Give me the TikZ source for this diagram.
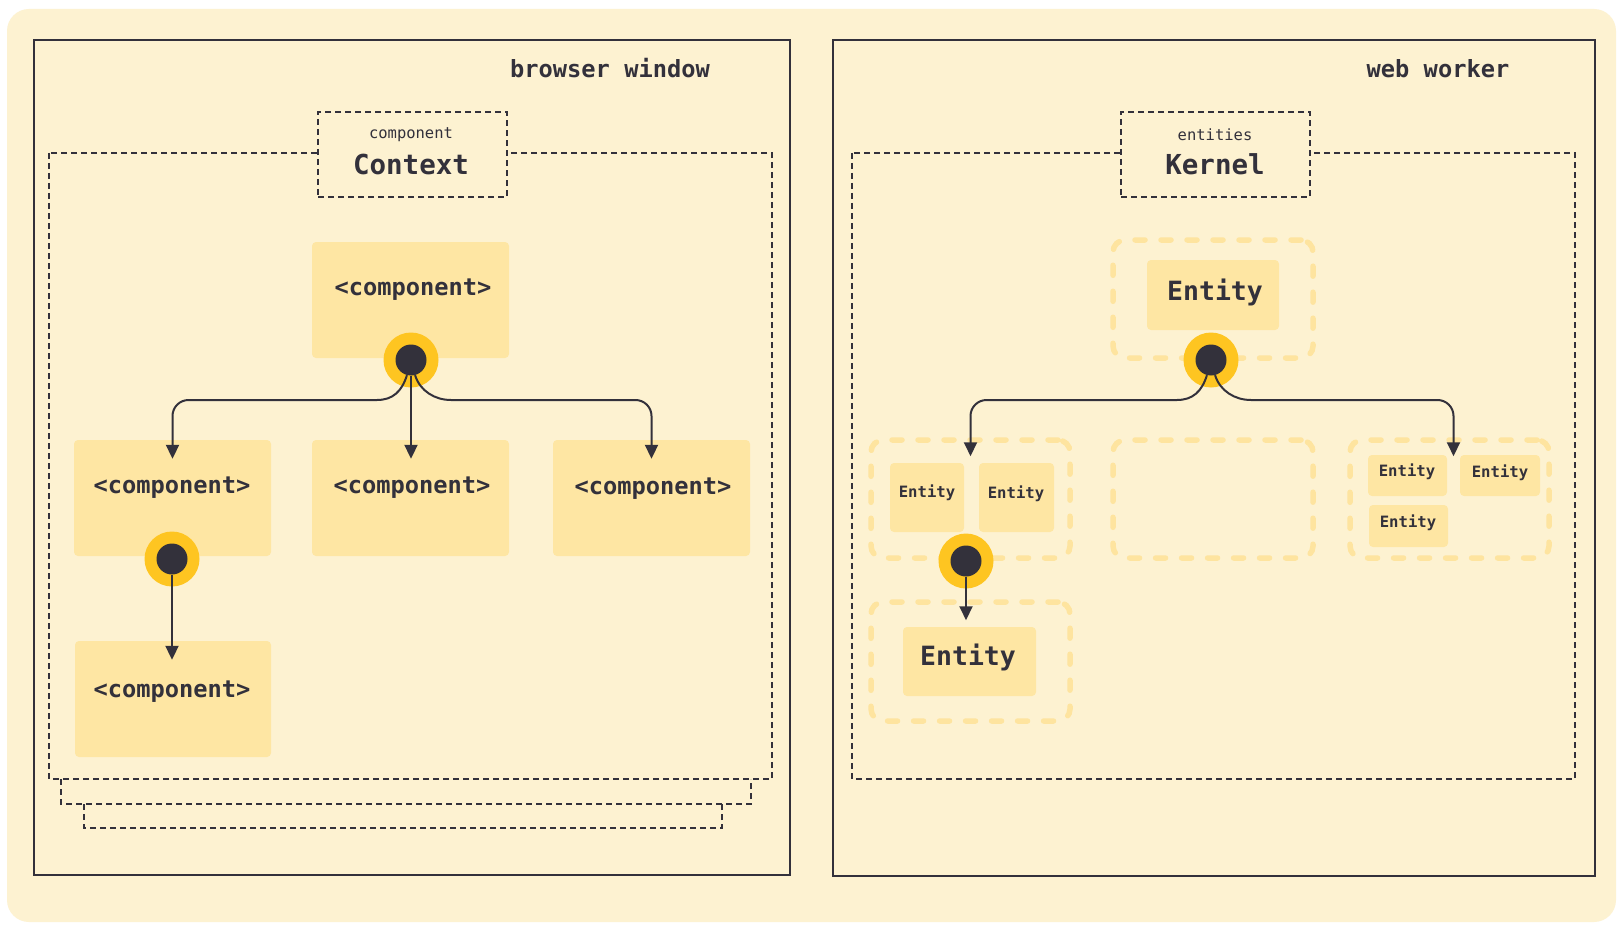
\documentclass[tikz,border=0pt]{standalone}
\usepackage{fontspec}
\newfontfamily\mono{DejaVu Sans Mono}
\usetikzlibrary{arrows.meta,calc}
\definecolor{bgc}{HTML}{FDF2D1}
\definecolor{boxc}{HTML}{FEE6A3}
\definecolor{ringc}{HTML}{FEC521}
\definecolor{ink}{HTML}{33313B}
\definecolor{grpc}{HTML}{FEE49F}
\begin{document}
\begin{tikzpicture}[x=1pt,y=-1pt,
  comp/.style={fill=boxc, rounded corners=4pt, inner sep=0pt, draw=none},
  big/.style={font=\mono\bfseries\fontsize{23.7}{28}\selectfont, text=ink, inner sep=0pt},
  huge/.style={font=\mono\bfseries\fontsize{26.5}{30}\selectfont, text=ink, inner sep=0pt},
  small/.style={font=\mono\bfseries\fontsize{15.6}{18}\selectfont, text=ink, inner sep=0pt},
  tiny/.style={font=\mono\fontsize{15.5}{18}\selectfont, text=ink, inner sep=0pt},
  title/.style={font=\mono\bfseries\fontsize{27.5}{32}\selectfont, text=ink, inner sep=0pt},
  ring/.style={circle, fill=ringc, minimum size=55pt, inner sep=0pt},
  dot/.style={circle, fill=ink, minimum size=31pt, inner sep=0pt},
  conn/.style={draw=ink, line width=2pt, -{Triangle[length=14pt,width=13pt]}},
  dashbox/.style={draw=ink, line width=1.6pt, dash pattern=on 6pt off 4pt},
  grp/.style={draw=grpc, line width=5.5pt, dash pattern=on 10pt off 16pt, line cap=round, rounded corners=12pt, inner sep=0pt},
  frame/.style={draw=ink, line width=2pt}
]
\useasboundingbox (0,0) rectangle (1624,928);
\fill[white] (0,0) rectangle (1624,928);
\fill[bgc, rounded corners=22pt] (7,9) rectangle (1616,922);

% outer frames
\draw[frame] (34,40) rectangle (790,875);
\draw[frame] (833,40) rectangle (1595,876);
\node[big] (bw) at (610,68) {browser window};
\node[big] (ww) at (1438,69) {web worker};

% ---------- left: component context ----------
\draw[dashbox] (61,779) -- (61,804) -- (751,804) -- (751,779);
\draw[dashbox] (84,804) -- (84,828) -- (722,828) -- (722,804);
\draw[dashbox] (49,153) rectangle (772,779);
\node[dashbox, fill=bgc, minimum width=189pt, minimum height=85pt, inner sep=0pt] (ctx) at (412.5,154.5) {};
\node[tiny] (ctxs) at (411,135) {component};
\node[title] (ctxt) at (411,164) {Context};

\node[comp, minimum width=197pt, minimum height=116pt] (ctop) at (410.5,300) {};
\node[big] at (413,290) {<component>};
\node[comp, minimum width=197pt, minimum height=116pt] (ca) at (172.5,498) {};
\node[big] at (172,488) {<component>};
\node[comp, minimum width=197pt, minimum height=116pt] (cb) at (410.5,498) {};
\node[big] at (412,488) {<component>};
\node[comp, minimum width=197pt, minimum height=116pt] (cc) at (651.5,498) {};
\node[big] at (653,489) {<component>};
\node[comp, minimum width=196pt, minimum height=116pt] (cd) at (173,699) {};
\node[big] at (172,692) {<component>};

\node[ring] (r1) at (411,360) {};
\node[dot] (d1) at (411,360) {};
\node[ring] (r2) at (172,559) {};
\node[dot] (d2) at (172,559) {};

\coordinate (hy) at (0,400);
\draw[conn] (d1.-105) .. controls +(-5,16) and +(16,0) .. ($(d1.center |- hy)+(-34,0)$) [rounded corners=16pt] -- (ca.north |- hy) -- ($(ca.north)+(0,19)$);
\draw[conn] (d1.south) -- ($(d1.center |- cb.north)+(0,19)$);
\draw[conn] (d1.-75) .. controls +(5,16) and +(-16,0) .. ($(d1.center |- hy)+(40,0)$) [rounded corners=16pt] -- (cc.north |- hy) -- ($(cc.north)+(0,19)$);
\draw[conn] (d2.south) -- ($(d2.center |- cd.north)+(0,19)$);

% ---------- right: kernel ----------
\draw[dashbox] (852,153) rectangle (1575,779);
\node[dashbox, fill=bgc, minimum width=189pt, minimum height=85pt, inner sep=0pt] (ker) at (1215.5,154.5) {};
\node[tiny] (kers) at (1215,135) {entities};
\node[title] (kert) at (1215,164) {Kernel};

\node[grp, minimum width=200pt, minimum height=118pt] (g0) at (1213,299) {};
\node[grp, minimum width=199pt, minimum height=118pt] (g1) at (970.5,499) {};
\node[grp, minimum width=200pt, minimum height=118pt] (g2) at (1213,499) {};
\node[grp, minimum width=199pt, minimum height=118pt] (g3) at (1449.5,499) {};
\node[grp, minimum width=199pt, minimum height=119pt] (g4) at (970.5,661.5) {};

\node[comp, minimum width=132pt, minimum height=70pt] (e0) at (1213,295) {};
\node[huge] at (1215,292) {Entity};
\node[comp, minimum width=74pt, minimum height=69pt] (e1) at (927,497.5) {};
\node[small] at (927,493) {Entity};
\node[comp, minimum width=75pt, minimum height=69pt] (e2) at (1016.5,497.5) {};
\node[small] at (1016,494) {Entity};
\node[comp, minimum width=133pt, minimum height=69pt] (e3) at (969.5,661.5) {};
\node[huge] at (968,657) {Entity};
\node[comp, minimum width=79pt, minimum height=41pt] (e4) at (1407.5,475.5) {};
\node[small] at (1407,472) {Entity};
\node[comp, minimum width=80pt, minimum height=41pt] (e5) at (1500,475.5) {};
\node[small] at (1500,473) {Entity};
\node[comp, minimum width=79pt, minimum height=42pt] (e6) at (1408.5,526) {};
\node[small] at (1408,523) {Entity};

\node[ring] (r4) at (1211,360) {};
\node[dot] (d4) at (1211,360) {};
\node[ring] (r5) at (966,561) {};
\node[dot] (d5) at (966,561) {};

\draw[conn] (d4.-105) .. controls +(-5,16) and +(16,0) .. ($(d4.center |- hy)+(-34,0)$) [rounded corners=16pt] -- (g1.north |- hy) -- ($(g1.north)+(0,19)$);
\draw[conn] (d4.-75) .. controls +(5,16) and +(-16,0) .. ($(d4.center |- hy)+(40,0)$) [rounded corners=16pt] -- ($(g3.north |- hy)+(4,0)$) -- ($(g3.north)+(4,19)$);
\draw[conn] (d5.south) -- ($(d5.center |- g4.north)+(0,21)$);
\end{tikzpicture}
\end{document}
